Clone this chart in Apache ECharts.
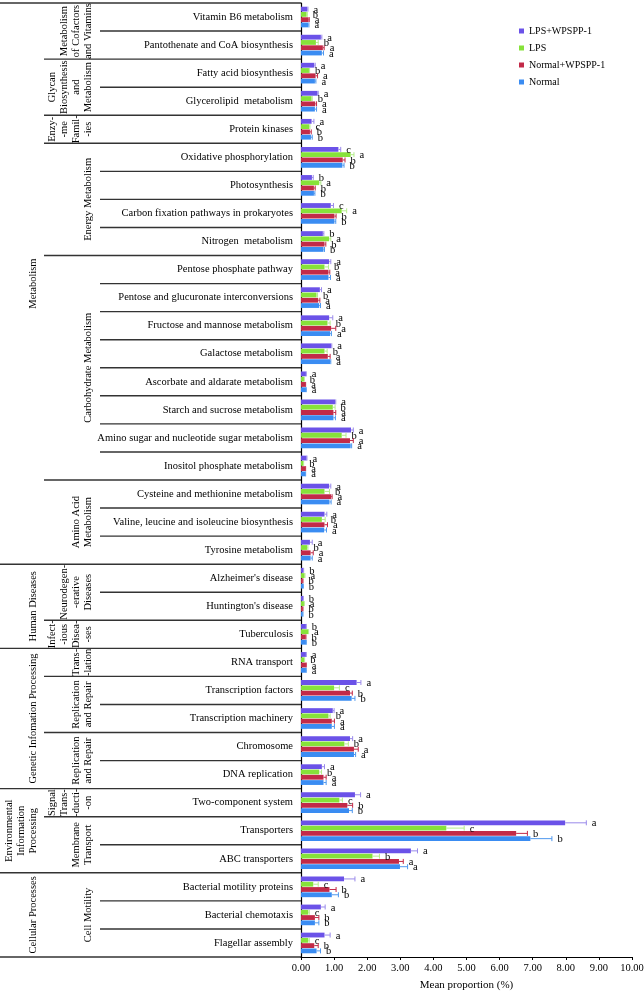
<!DOCTYPE html>
<html><head><meta charset="utf-8">
<script src="https://cdn.jsdelivr.net/npm/echarts@6/dist/echarts.min.js"></script>
<style>html,body{margin:0;padding:0;background:#fff}#c{width:644px;height:992px}</style>
</head><body><div id="c"></div>
<script>
const categories = [
 'Vitamin B6 metabolism','Pantothenate and CoA biosynthesis','Fatty acid biosynthesis','Glycerolipid  metabolism','Protein kinases',
 'Oxidative phosphorylation','Photosynthesis','Carbon fixation pathways in prokaryotes','Nitrogen  metabolism',
 'Pentose phosphate pathway','Pentose and glucuronate interconversions','Fructose and mannose metabolism','Galactose metabolism',
 'Ascorbate and aldarate metabolism','Starch and sucrose metabolism','Amino sugar and nucleotide sugar metabolism','Inositol phosphate metabolism',
 'Cysteine and methionine metabolism','Valine, leucine and isoleucine biosynthesis','Tyrosine metabolism',
 "Alzheimer's disease","Huntington's disease",'Tuberculosis',
 'RNA transport','Transcription factors','Transcription machinery','Chromosome','DNA replication',
 'Two-component system','Transporters','ABC transporters',
 'Bacterial motility proteins','Bacterial chemotaxis','Flagellar assembly'
];
const seriesNames = ['LPS+WPSPP-1','LPS','Normal+WPSPP-1','Normal'];
const seriesColors = ['#6b52e8','#86e23a','#c22a48','#3a8cf2'];
const errorColors = ['#9a8aea','#b5ec8c','#c22a48','#4f98ee'];

const lpsWpspp   = [0.19,0.60,0.40,0.50,0.32,1.13,0.33,0.90,0.66,0.85,0.57,0.85,0.91,0.15,1.03,1.51,0.17,0.85,0.71,0.27,0.07,0.06,0.15,0.15,1.68,0.96,1.48,0.63,1.63,7.98,3.32,1.30,0.60,0.71];
const lps        = [0.17,0.45,0.24,0.32,0.25,1.50,0.55,1.23,0.85,0.71,0.47,0.80,0.71,0.09,0.96,1.23,0.07,0.71,0.63,0.19,0.11,0.09,0.22,0.10,1.00,0.83,1.31,0.55,1.16,4.39,2.16,0.37,0.22,0.22];
const normalWpspp= [0.23,0.66,0.44,0.43,0.27,1.26,0.39,1.01,0.71,0.83,0.52,0.91,0.81,0.13,0.98,1.48,0.13,0.91,0.71,0.29,0.05,0.05,0.14,0.15,1.48,0.93,1.60,0.68,1.40,6.50,2.96,0.86,0.42,0.40];
const normal     = [0.22,0.63,0.42,0.42,0.30,1.25,0.39,1.01,0.68,0.83,0.55,0.88,0.88,0.15,0.98,1.50,0.13,0.86,0.70,0.29,0.06,0.05,0.15,0.15,1.53,0.93,1.60,0.68,1.45,6.93,2.99,0.93,0.42,0.47];

const lpsWpsppErr   = [0.02,0.03,0.03,0.02,0.07,0.07,0.04,0.08,0.03,0.05,0.05,0.11,0.02,0.01,0.02,0.07,0.01,0.05,0.07,0.07,0.01,0.01,0.01,0.01,0.13,0.04,0.08,0.08,0.17,0.64,0.20,0.33,0.13,0.17];
const lpsErr        = [0.02,0.07,0.02,0.02,0.02,0.10,0.05,0.15,0.05,0.12,0.03,0.08,0.08,0.01,0.07,0.13,0.01,0.15,0.10,0.02,0.01,0.01,0.01,0.01,0.16,0.05,0.12,0.07,0.09,0.54,0.21,0.15,0.03,0.03];
const normalWpsppErr= [0.02,0.04,0.06,0.04,0.04,0.07,0.04,0.05,0.04,0.04,0.05,0.14,0.07,0.01,0.07,0.10,0.01,0.03,0.09,0.08,0.01,0.01,0.01,0.01,0.07,0.08,0.13,0.08,0.16,0.34,0.13,0.20,0.12,0.12];
const normalErr     = [0.02,0.05,0.03,0.05,0.04,0.05,0.03,0.04,0.03,0.06,0.04,0.04,0.02,0.01,0.06,0.03,0.01,0.05,0.07,0.05,0.01,0.01,0.01,0.01,0.10,0.08,0.05,0.08,0.10,0.65,0.23,0.20,0.12,0.12];

// significance letters per row, in order LPS+WPSPP-1, LPS, Normal+WPSPP-1, Normal
const letters = ['abaa','abaa','abaa','abaa','acbb','cabb','babb','cabb','babb','abaa','abaa','abaa','abaa','abaa','abaa','abaa','abaa',
 'abaa','abaa','abaa','babb','babb','babb','abaa','acbb','abaa','abaa','abaa','acbb','acbb','abaa','acbb','acbb','acbb'];

const xTicks = [0,1,2,3,4,5,6,7,8,9,10];

const level1Groups = [
 {label:'Metabolism', from:0, to:19},
 {label:'Human Diseases', from:20, to:22},
 {label:'Genetic Infomation Processing', from:23, to:27},
 {label:'Environmental\nInformation\nProcessing', from:28, to:30},
 {label:'Cellular Processes', from:31, to:33}
];
const level2Groups = [
 {label:'Metabolism\nof Cofactors\nand Vitamins', from:0, to:1},
 {label:'Glycan\nBiosynthesis\nand\nMetabolism', from:2, to:3},
 {label:'Enzy-\n-me\nFamil-\n-ies', from:4, to:4},
 {label:'Energy Metabolism', from:5, to:8},
 {label:'Carbohydrate Metabolism', from:9, to:16},
 {label:'Amino Acid\nMetabolism', from:17, to:19},
 {label:'Neurodegen-\n-erative\nDiseases', from:20, to:21},
 {label:'Infect-\n-ious\nDisea-\n-ses', from:22, to:22},
 {label:'Trans-\n-lation', from:23, to:23},
 {label:'Replication\nand Repair', from:24, to:25},
 {label:'Replication\nand Repair', from:26, to:27},
 {label:'Signal\nTrans-\n-ducti-\n-on', from:28, to:28},
 {label:'Membrane\nTransport', from:29, to:30},
 {label:'Cell Motility', from:31, to:33}
];

const values = [lpsWpspp, lps, normalWpspp, normal];
const errors = [lpsWpsppErr, lpsErr, normalWpsppErr, normalErr];

const FONT = '"Liberation Serif", "DejaVu Serif", serif';
const BW = 4.8, GAPP = 0.1;

const series = [];
values.forEach((vals, si) => {
  series.push({
    name: seriesNames[si], type: 'bar', barWidth: BW, barGap: (GAPP*100)+'%',
    data: vals, itemStyle: {color: seriesColors[si]}, animation: false
  });
});
values.forEach((vals, si) => {
  series.push({
    name: 'err' + si, type: 'custom', animation: false, silent: true, z: 5,
    encode: {x: 0, y: 1},
    data: vals.map((v, i) => [v, i]),
    renderItem: function (params, api) {
      const i = api.value(1);
      const v = vals[i], e = errors[si][i];
      const c = api.coord([v, i]);
      const c2 = api.coord([v + e, i]);
      const gap = BW * GAPP;
      const total = 4 * BW + 3 * gap;
      const yc = c[1] - total / 2 + si * (BW + gap) + BW / 2;
      return {type: 'group', children: [
        {type: 'line', shape: {x1: c[0], y1: yc, x2: c2[0], y2: yc}, style: {stroke: errorColors[si], lineWidth: 1}},
        {type: 'line', shape: {x1: c2[0], y1: yc - 2.5, x2: c2[0], y2: yc + 2.5}, style: {stroke: errorColors[si], lineWidth: 1}},
        {type: 'text', style: {text: letters[i][si], x: c2[0] + 5.5, y: yc + 0.8, verticalAlign: 'middle', align: 'left',
          fill: '#000', font: '10.5px ' + FONT}}
      ]};
    }
  });
});

const option = {
  animation: false,
  backgroundColor: '#fff',
  grid: {left: 301, right: 12, top: 3, bottom: 35, containLabel: false, outerBoundsMode: 'none'},
  legend: {
    data: seriesNames, orient: 'vertical', left: 514, top: 21, itemWidth: 5, itemHeight: 5, itemGap: 7,
    icon: 'rect', textStyle: {fontFamily: FONT, fontSize: 10, color: '#000'}
  },
  xAxis: {
    type: 'value', min: xTicks[0], max: xTicks[xTicks.length-1], interval: 1,
    name: 'Mean proportion (%)', nameLocation: 'middle', nameGap: 23,
    nameTextStyle: {fontFamily: FONT, fontSize: 11, color: '#000'},
    axisLine: {show: true, lineStyle: {color: '#000', width: 1}},
    axisTick: {show: true, length: 3, lineStyle: {color: '#000'}},
    axisLabel: {formatter: v => v.toFixed(2), fontFamily: FONT, fontSize: 10.5, color: '#000', margin: 6},
    splitLine: {show: false}
  },
  yAxis: {
    type: 'category', inverse: true, data: categories,
    axisLine: {show: true, lineStyle: {color: '#000', width: 1.2}},
    axisTick: {show: false},
    axisLabel: {interval: 0, fontFamily: FONT, fontSize: 10.5, color: '#000', margin: 8, align: 'right'},
    splitLine: {show: false}
  },
  series: series
};

const chart = echarts.init(document.getElementById('c'), null, {renderer: 'canvas'});
chart.setOption(option);

function yOf(i) { return chart.convertToPixel({yAxisIndex: 0}, categories[i]); }
const axisX = chart.convertToPixel({xAxisIndex: 0}, 0);
const band = yOf(1) - yOf(0);
const l1Starts = new Set(level1Groups.map(g => g.from));
const l2Starts = new Set(level2Groups.map(g => g.from));
const graphics = [];
for (let i = 0; i <= categories.length; i++) {
  const y = (i < categories.length ? yOf(i) - band / 2 : yOf(i - 1) + band / 2);
  let x0;
  if (i === 0 || i === categories.length || l1Starts.has(i)) x0 = 0;
  else if (l2Starts.has(i)) x0 = 44;
  else x0 = 100;
  graphics.push({type: 'line', silent: true, shape: {x1: x0, y1: y, x2: axisX, y2: y}, style: {stroke: '#333', lineWidth: 1.4}});
}
function groupText(g, xAnchor) {
  const yc = (yOf(g.from) + yOf(g.to)) / 2;
  return {type: 'text', silent: true, x: xAnchor, y: yc, rotation: Math.PI / 2,
    style: {text: g.label, align: 'center', verticalAlign: 'bottom', fill: '#000', font: '10.5px ' + FONT, lineHeight: 12}};
}
level1Groups.forEach(g => graphics.push(groupText(g, 39.5)));
level2Groups.forEach(g => graphics.push(groupText(g, 94.5)));
chart.setOption({graphic: graphics});
</script></body></html>
